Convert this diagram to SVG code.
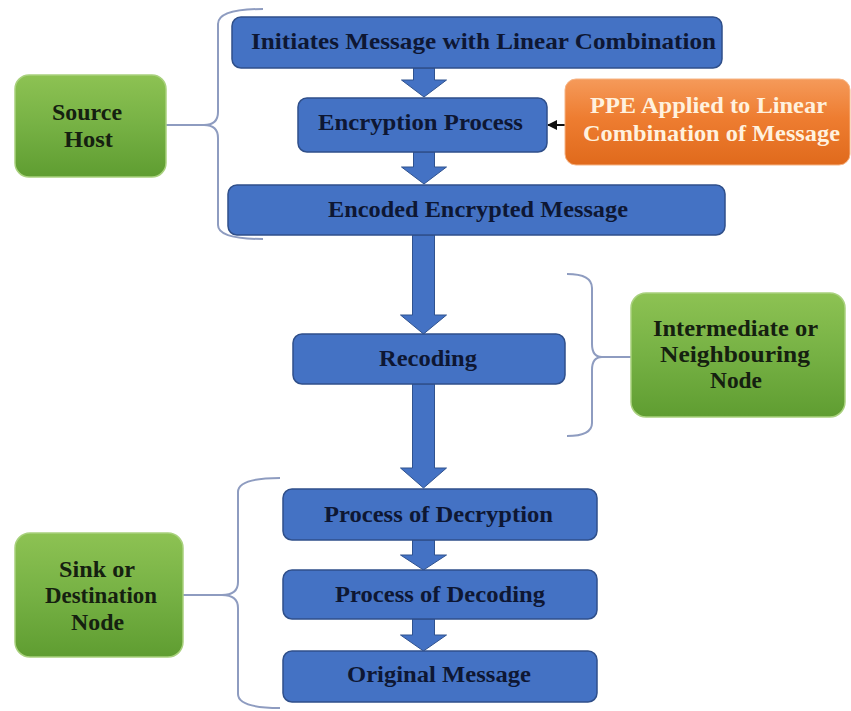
<svg xmlns="http://www.w3.org/2000/svg" width="851" height="711" viewBox="0 0 851 711">
  <defs>
    <linearGradient id="gGreen" x1="0" y1="0" x2="0" y2="1">
      <stop offset="0" stop-color="#8DC253"/>
      <stop offset="0.5" stop-color="#76B144"/>
      <stop offset="1" stop-color="#5F9D31"/>
    </linearGradient>
    <linearGradient id="gOrange" x1="0" y1="0" x2="0" y2="1">
      <stop offset="0" stop-color="#F59A5A"/>
      <stop offset="0.45" stop-color="#EE7D31"/>
      <stop offset="1" stop-color="#E06A1C"/>
    </linearGradient>
    <marker id="blackHead" viewBox="0 0 10 10" refX="9" refY="5" markerWidth="5" markerHeight="5" orient="auto">
      <path d="M0,0 L10,5 L0,10 z" fill="#111"/>
    </marker>
  </defs>
  <style>
    .blue { fill: #4472C4; stroke: #2F4F8A; stroke-width: 1.5; }
    .green { fill: url(#gGreen); stroke: #A9D17E; stroke-width: 1.5; }
    .orange { fill: url(#gOrange); stroke: #F6B484; stroke-width: 1; }
    .flow { fill: #4472C4; stroke: #2F528F; stroke-width: 1; }
    .brace { fill: none; stroke: #8E9CC0; stroke-width: 2; }
    text { font-family: "Liberation Serif", "Times New Roman", serif; font-weight: bold; font-size: 23px; text-anchor: middle; }
    .tb { fill: #0E1733; }
    .tg { fill: #152010; }
    .to { fill: #FFF1DE; }
  </style>
  <rect width="851" height="711" fill="#FFFFFF"/>

  <!-- connectors: block arrows, the side arrow and the grouping braces -->
  <g id="connectors">
    <path class="flow" d="M413.5,68 L434.5,68 L434.5,80 L446.5,80 L424,97 L401.5,80 L413.5,80 Z"/>
    <path class="flow" d="M413.5,152 L434.5,152 L434.5,167 L446.5,167 L424,184 L401.5,167 L413.5,167 Z"/>
    <path class="flow" d="M412.5,235 L434.5,235 L434.5,315 L446.5,315 L423.5,334 L400.5,315 L412.5,315 Z"/>
    <path class="flow" d="M412.5,384 L434.5,384 L434.5,468 L446.5,468 L423.5,488 L400.5,468 L412.5,468 Z"/>
    <path class="flow" d="M412.5,540 L434.5,540 L434.5,555 L446.5,555 L423.5,570 L400.5,555 L412.5,555 Z"/>
    <path class="flow" d="M412.5,619 L434.5,619 L434.5,635 L446.5,635 L423.5,651 L400.5,635 L412.5,635 Z"/>

    <line x1="565" y1="125" x2="548" y2="125" stroke="#111" stroke-width="2" marker-end="url(#blackHead)"/>

    <path class="brace" d="M263,9 Q218,9 218,24 L218,112 Q218,125 204,125 Q218,125 218,138 L218,225 Q218,239 263,239"/>
    <line class="brace" x1="166" y1="125" x2="205" y2="125"/>

    <path class="brace" d="M567,274 Q592,274 592,288 L592,344 Q592,357 602,357 Q592,357 592,370 L592,423 Q592,436 567,436"/>
    <line class="brace" x1="601" y1="357" x2="631" y2="357"/>

    <path class="brace" d="M280,478 Q238,478 238,492 L238,582 Q238,595 222,595 Q238,595 238,608 L238,694 Q238,708 280,708"/>
    <line class="brace" x1="183" y1="595" x2="223" y2="595"/>
  </g>

  <g id="initiate">
    <rect class="blue" x="232" y="17" width="490" height="51" rx="9"/>
    <text class="tb" x="483.5" y="49" textLength="465" lengthAdjust="spacingAndGlyphs">Initiates Message with Linear Combination</text>
  </g>
  <g id="encryption">
    <rect class="blue" x="298" y="98" width="249" height="54" rx="9"/>
    <text class="tb" x="420.5" y="130" textLength="205" lengthAdjust="spacingAndGlyphs">Encryption Process</text>
  </g>
  <g id="ppe">
    <rect class="orange" x="565" y="79" width="285" height="86" rx="11"/>
    <text class="to" x="708.5" y="113" textLength="237" lengthAdjust="spacingAndGlyphs">PPE Applied to Linear</text>
    <text class="to" x="711.5" y="141" textLength="257" lengthAdjust="spacingAndGlyphs">Combination of Message</text>
  </g>
  <g id="encoded">
    <rect class="blue" x="228" y="185" width="497" height="50" rx="9"/>
    <text class="tb" x="478" y="217" textLength="300" lengthAdjust="spacingAndGlyphs">Encoded Encrypted Message</text>
  </g>
  <g id="source-host">
    <rect class="green" x="15" y="75" width="151" height="102" rx="14"/>
    <text class="tg" x="87" y="120" textLength="70" lengthAdjust="spacingAndGlyphs">Source</text>
    <text class="tg" x="88.5" y="147" textLength="49" lengthAdjust="spacingAndGlyphs">Host</text>
  </g>
  <g id="recoding">
    <rect class="blue" x="293" y="334" width="272" height="50" rx="9"/>
    <text class="tb" x="428" y="366" textLength="98" lengthAdjust="spacingAndGlyphs">Recoding</text>
  </g>
  <g id="intermediate">
    <rect class="green" x="631" y="293" width="214" height="124" rx="15"/>
    <text class="tg" x="735.5" y="336" textLength="165" lengthAdjust="spacingAndGlyphs">Intermediate or</text>
    <text class="tg" x="735" y="362" textLength="150" lengthAdjust="spacingAndGlyphs">Neighbouring</text>
    <text class="tg" x="736" y="388" textLength="52" lengthAdjust="spacingAndGlyphs">Node</text>
  </g>
  <g id="decryption">
    <rect class="blue" x="283" y="489" width="314" height="51" rx="9"/>
    <text class="tb" x="438.5" y="522" textLength="229" lengthAdjust="spacingAndGlyphs">Process of Decryption</text>
  </g>
  <g id="decoding">
    <rect class="blue" x="283" y="570" width="314" height="49" rx="9"/>
    <text class="tb" x="440" y="602" textLength="210" lengthAdjust="spacingAndGlyphs">Process of Decoding</text>
  </g>
  <g id="original">
    <rect class="blue" x="283" y="651" width="314" height="51" rx="9"/>
    <text class="tb" x="439" y="682" textLength="184" lengthAdjust="spacingAndGlyphs">Original Message</text>
  </g>
  <g id="sink">
    <rect class="green" x="15" y="533" width="168" height="124" rx="15"/>
    <text class="tg" x="97" y="577" textLength="76" lengthAdjust="spacingAndGlyphs">Sink or</text>
    <text class="tg" x="101" y="603" textLength="112" lengthAdjust="spacingAndGlyphs">Destination</text>
    <text class="tg" x="97.5" y="630" textLength="53" lengthAdjust="spacingAndGlyphs">Node</text>
  </g>
</svg>
